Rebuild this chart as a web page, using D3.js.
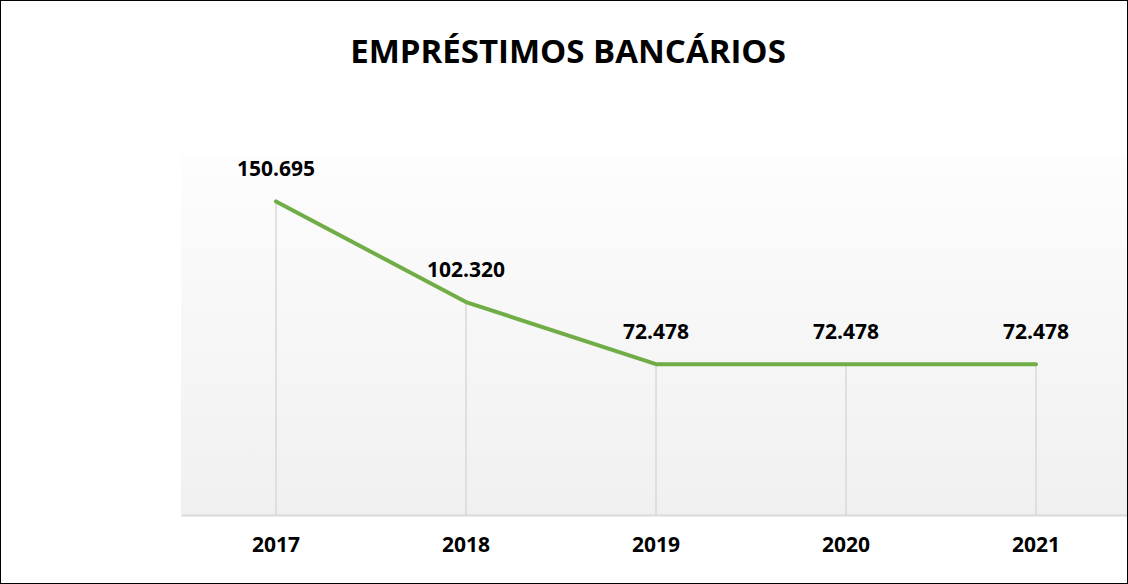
<!DOCTYPE html>
<html>
<head>
<meta charset="utf-8">
<script src="https://cdn.jsdelivr.net/npm/d3@7"></script>
<style>
  body{margin:0;background:#fff;}
  text{font-family:"Open Sans",sans-serif;font-weight:bold;fill:#000;}
</style>
</head>
<body>
<div id="chart"></div>
<script>
var anos=['2017','2018','2019','2020','2021'];
var valores=[150.695,102.320,72.478,72.478,72.478];
var rotulos=['150.695','102.320','72.478','72.478','72.478'];
var titulo='EMPRÉSTIMOS BANCÁRIOS';

var width=1128, height=584;
var plot={left:181,right:1131,top:155,bottom:515};

var svg=d3.select("#chart").append("svg")
          .attr("width",width)
          .attr("height",height);

// fundo com gradiente
var grad=svg.append("defs").append("linearGradient")
            .attr("id","fundo")
            .attr("x1",0).attr("y1",0).attr("x2",0).attr("y2",1);
grad.append("stop").attr("offset","0%").attr("stop-color","#fdfdfd");
grad.append("stop").attr("offset","100%").attr("stop-color","#f0f0f0");

svg.append("rect")
   .attr("x",plot.left)
   .attr("y",plot.top)
   .attr("width",plot.right-plot.left)
   .attr("height",plot.bottom-plot.top)
   .attr("fill","url(#fundo)");

var xscale=d3.scaleBand()
             .domain(anos)
             .range([plot.left,plot.right]);
var yscale=d3.scaleLinear()
             .domain([0,173])
             .range([plot.bottom,plot.top]);

function cx(d){ return xscale(d)+xscale.bandwidth()/2; }

// linhas de queda
svg.selectAll(".drop")
   .data(anos)
   .enter()
   .append("line")
   .attr("class","drop")
   .attr("x1",cx).attr("x2",cx)
   .attr("y1",function(d,i){ return yscale(valores[i]); })
   .attr("y2",yscale(0))
   .attr("stroke","#d9d9d9")
   .attr("stroke-width",1.5);

// eixo x
var xAxis=d3.axisBottom(xscale).tickSize(0).tickPadding(22);
var gx=svg.append("g")
          .attr("transform","translate(0,"+yscale(0)+")")
          .call(xAxis);
gx.select(".domain").attr("stroke","#d9d9d9").attr("stroke-width",2);
gx.selectAll("text")
  .style("font-family","'Open Sans',sans-serif")
  .style("font-weight","bold")
  .style("font-size","21px")
  .attr("fill","#000");

// linha
var line=d3.line()
           .x(function(d,i){ return cx(anos[i]); })
           .y(function(d){ return yscale(d); });
svg.append("path")
   .datum(valores)
   .attr("d",line)
   .attr("fill","none")
   .attr("stroke","#70ad47")
   .attr("stroke-width",4)
   .attr("stroke-linecap","round")
   .attr("stroke-linejoin","round");

// rótulos
svg.selectAll(".rot")
   .data(rotulos)
   .enter()
   .append("text")
   .attr("class","rot")
   .attr("x",function(d,i){ return cx(anos[i]); })
   .attr("y",function(d,i){ return yscale(valores[i])-25; })
   .attr("text-anchor","middle")
   .style("font-size","21px")
   .text(function(d){ return d; });

// título
svg.append("text")
   .attr("x",568)
   .attr("y",63)
   .attr("text-anchor","middle")
   .style("font-size","33px")
   .text(titulo);

// borda
svg.append("rect")
   .attr("x",0.5).attr("y",0.5)
   .attr("width",width-1).attr("height",height-1)
   .attr("fill","none")
   .attr("stroke","#000")
   .attr("stroke-width",1);
</script>
</body>
</html>
